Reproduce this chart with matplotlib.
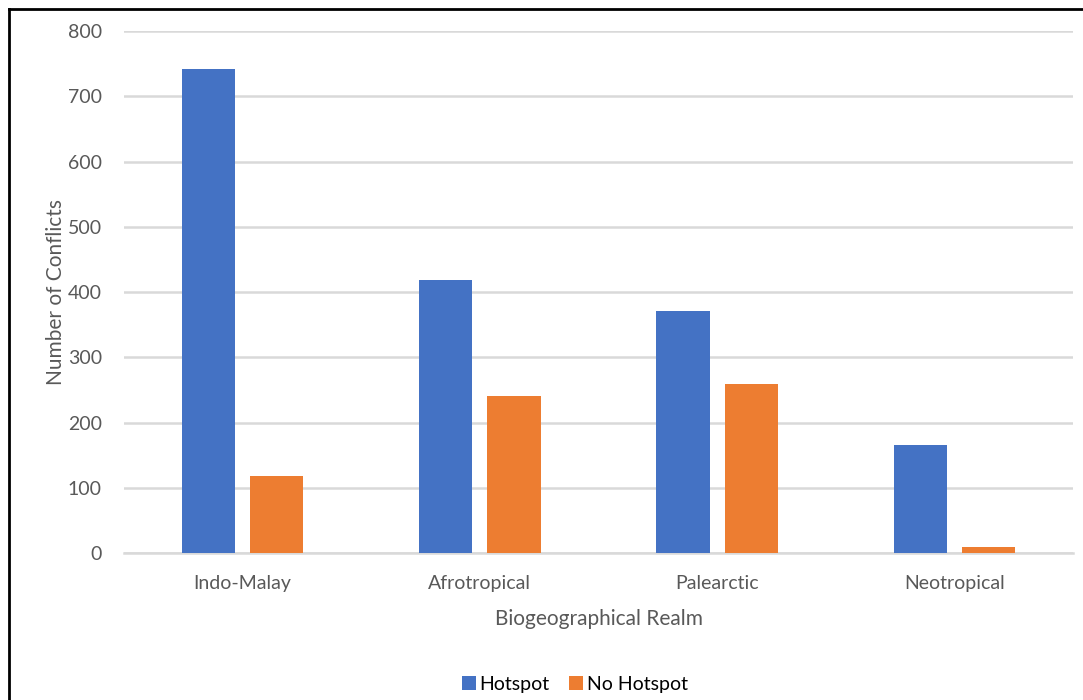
import matplotlib.pyplot as plt
import numpy as np
from matplotlib.lines import Line2D

realms = ["Indo-Malay", "Afrotropical", "Palearctic", "Neotropical"]
hotspot = [742, 419, 371, 165]
no_hotspot = [118, 241, 259, 9]

blue = "#4472C4"
orange = "#ED7D31"
grey_text = "#595959"

plt.rcParams['font.family'] = ['Lato', 'DejaVu Sans']

fig = plt.figure(figsize=(10.83, 7.0), dpi=100)
ax = fig.add_axes([0.1145, 0.21, 0.8763, 0.7457])

x = np.arange(len(realms))
w = 0.224
off = 0.144
ax.bar(x - off, hotspot, w, color=blue, label="Hotspot", zorder=3)
ax.bar(x + off, no_hotspot, w, color=orange, label="No Hotspot", zorder=3)

ax.set_xlim(-0.5, 3.5)
ax.set_ylim(0, 800)
ax.set_yticks(range(0, 801, 100))
ax.yaxis.grid(True, color="#d9d9d9", linewidth=1.8, zorder=0)
ax.set_axisbelow(True)
for s in ["top", "right", "left"]:
    ax.spines[s].set_visible(False)
ax.spines["bottom"].set_color("#d9d9d9")
ax.spines["bottom"].set_linewidth(1.8)
ax.tick_params(axis="both", length=0, labelsize=14, colors=grey_text)
ax.tick_params(axis="y", pad=16)
ax.tick_params(axis="x", pad=16)
ax.set_xticks(x)
ax.set_xticklabels(realms)

ax.set_xlabel("Biogeographical Realm", fontsize=15, color=grey_text, labelpad=12)
ax.set_ylabel("Number of Conflicts", fontsize=15, color=grey_text, labelpad=1)

ax.legend(loc="center", bbox_to_anchor=(0.475, -0.252), ncol=2, frameon=False,
          fontsize=14, handlelength=0.7, handleheight=0.7, handletextpad=0.2,
          columnspacing=1.0)

# frame edges along the left and top
fig.add_artist(Line2D([9 / 1083, 9 / 1083], [0, 1 - 9 / 700], color="black", linewidth=2))
fig.add_artist(Line2D([9 / 1083, 1], [1 - 9 / 700, 1 - 9 / 700], color="black", linewidth=2))

fig.savefig("out.png", dpi=100)
